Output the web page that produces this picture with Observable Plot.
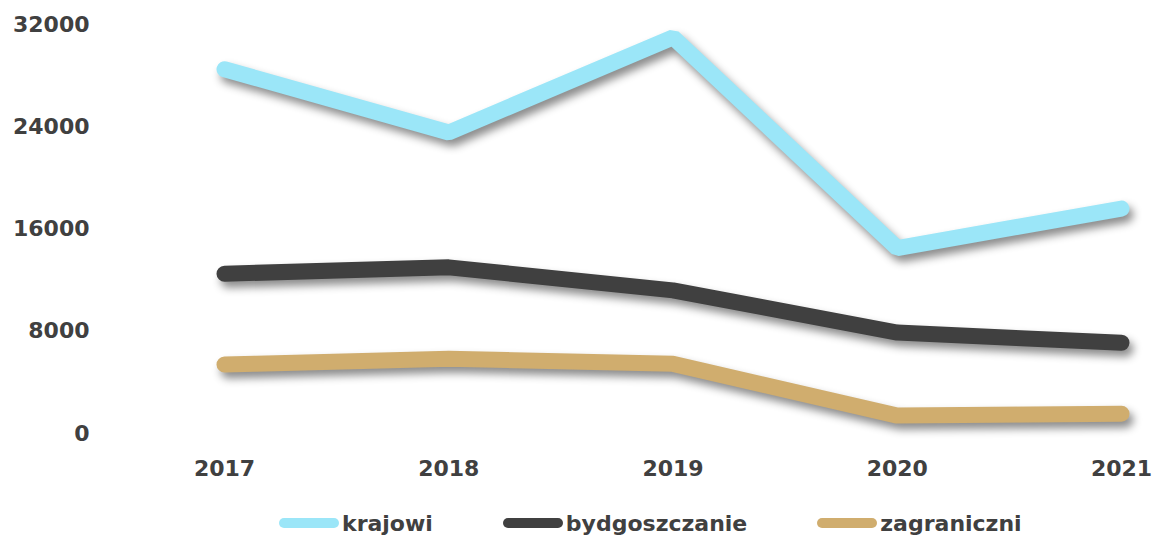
<!DOCTYPE html>
<html>
<head>
<meta charset="utf-8">
<script src="https://cdn.jsdelivr.net/npm/d3@7"></script>
<script src="https://cdn.jsdelivr.net/npm/@observablehq/plot@0.6"></script>
<style>
  html, body { margin: 0; padding: 0; background: #fff; }
  #chart { width: 1153px; }
  .legend { display: flex; align-items: center; height: 26px; padding-top: 20px; padding-left: 279px; gap: 70px;
            font-family: "DejaVu Sans", sans-serif; font-weight: bold; font-size: 22px; color: #404040; }
  .item { display: flex; align-items: center; gap: 3px; }
  .sw { width: 60px; height: 10px; border-radius: 5px; }
</style>
</head>
<body>
<div id="chart"></div>
<script>
const years = [2017, 2018, 2019, 2020, 2021];
const seriesNames = ["krajowi", "bydgoszczanie", "zagraniczni"];
const krajowi = [28500, 23550, 31000, 14500, 17600];
const bydgoszczanie = [12500, 13000, 11200, 7900, 7100];
const zagraniczni = [5400, 5850, 5450, 1400, 1550];
const colors = ["#9be6f8", "#404040", "#d0ad6e"];
const yTicks = [0, 8000, 16000, 24000, 32000];

const values = [krajowi, bydgoszczanie, zagraniczni];
const data = [];
seriesNames.forEach((s, i) => years.forEach((y, j) => data.push({series: s, year: y, value: values[i][j]})));

const plot = Plot.plot({
  width: 1153,
  height: 490,
  marginLeft: 95,
  marginRight: 0,
  insetLeft: 129,
  insetRight: 32,
  marginTop: 24,
  marginBottom: 57,
  style: {fontFamily: "DejaVu Sans, sans-serif", fontSize: "22px", fontWeight: "bold", color: "#404040", background: "#fff"},
  x: {domain: [2017, 2021]},
  y: {domain: [0, 32000]},
  color: {domain: seriesNames, range: colors},
  marks: [
    Plot.axisY({ticks: yTicks, tickSize: 0, tickPadding: 6, tickFormat: "d", label: null}),
    Plot.axisX({ticks: years, tickSize: 0, tickPadding: 27, tickFormat: "d", label: null}),
    Plot.line(data, {x: "year", y: "value", z: "series", stroke: "series", strokeWidth: 16,
      strokeLinecap: "round", strokeLinejoin: "miter"})
  ]
});
document.getElementById("chart").appendChild(plot);
d3.select(plot).selectAll("g[aria-label='line'] path")
  .style("filter", "drop-shadow(4px 6px 4px rgba(0,0,0,0.45))");

const legend = d3.select("#chart").append("div").attr("class", "legend");
seriesNames.forEach((s, i) => {
  const it = legend.append("div").attr("class", "item");
  it.append("div").attr("class", "sw").style("background", colors[i]);
  it.append("span").text(s);
});
</script>
</body>
</html>
